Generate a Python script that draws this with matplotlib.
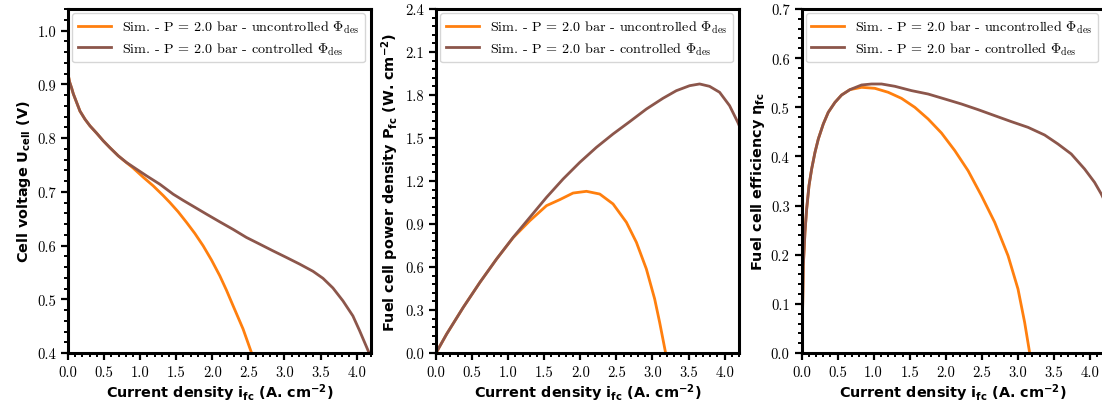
import matplotlib
matplotlib.use("Agg")
import matplotlib.pyplot as plt
from matplotlib.ticker import MultipleLocator, AutoMinorLocator, FormatStrFormatter

# ---- data ----
# Panel 1: cell voltage (V) vs current density (A/cm2)
i_u_unc = [0.0, 0.02, 0.05, 0.074, 0.12, 0.166, 0.235, 0.305, 0.397, 0.489, 0.581, 0.697,
           0.766, 0.904, 1.043, 1.181, 1.319, 1.412, 1.527, 1.643, 1.758, 1.873, 1.989,
           2.104, 2.196, 2.288, 2.427, 2.542, 2.70, 2.85]
u_unc = [0.92, 0.905, 0.893, 0.882, 0.866, 0.850, 0.835, 0.8225, 0.809, 0.7947, 0.782, 0.7668,
         0.759, 0.744, 0.727, 0.711, 0.693, 0.680, 0.6627, 0.643, 0.6225, 0.5995, 0.573,
         0.5437, 0.517, 0.488, 0.4446, 0.401, 0.33, 0.25]
i_u_ctl = [0.0, 0.02, 0.05, 0.074, 0.12, 0.166, 0.235, 0.305, 0.397, 0.489, 0.581, 0.697,
           0.812, 0.950, 1.089, 1.273, 1.458, 1.596, 1.735, 1.919, 2.104, 2.288, 2.473,
           2.657, 2.842, 3.027, 3.211, 3.396, 3.534, 3.672, 3.811, 3.949, 4.042, 4.111,
           4.171, 4.2]
u_ctl = [0.92, 0.905, 0.893, 0.882, 0.866, 0.850, 0.835, 0.8225, 0.809, 0.7947, 0.782, 0.7668,
         0.7544, 0.742, 0.7296, 0.714, 0.6955, 0.684, 0.673, 0.6584, 0.644, 0.630, 0.615,
         0.6026, 0.590, 0.5778, 0.5654, 0.552, 0.539, 0.521, 0.497, 0.469, 0.4415, 0.4198,
         0.401, 0.39]

# Panel 2: power density (W/cm2)
i_p_unc = [0.0, 0.148, 0.378, 0.609, 0.840, 1.070, 1.301, 1.532, 1.716, 1.90, 2.086,
           2.27, 2.454, 2.639, 2.778, 2.916, 3.031, 3.10, 3.183]
p_unc = [0.0, 0.1326, 0.3186, 0.493, 0.656, 0.805, 0.923, 1.028, 1.070, 1.116, 1.128,
         1.109, 1.040, 0.912, 0.772, 0.586, 0.377, 0.214, 0.0]
i_p_ctl = [0.0, 0.148, 0.378, 0.609, 0.840, 1.070, 1.301, 1.532, 1.762, 1.993, 2.224,
           2.454, 2.685, 2.916, 3.146, 3.331, 3.516, 3.654, 3.792, 3.931, 4.069, 4.184, 4.2]
p_ctl = [0.0, 0.1326, 0.3186, 0.493, 0.656, 0.807, 0.9465, 1.086, 1.214, 1.330, 1.435,
         1.528, 1.614, 1.702, 1.777, 1.830, 1.865, 1.877, 1.8605, 1.819, 1.726, 1.609, 1.59]

# Panel 3: efficiency
i_e_unc = [0.0, 0.0115, 0.025, 0.048, 0.0715, 0.104, 0.1407, 0.187, 0.233, 0.302, 0.371,
           0.4637, 0.556, 0.671, 0.833, 1.017, 1.202, 1.386, 1.571, 1.755, 1.940, 2.125,
           2.309, 2.494, 2.678, 2.863, 3.001, 3.093, 3.163]
e_unc = [0.0, 0.0556, 0.1777, 0.2456, 0.293, 0.3405, 0.3744, 0.4084, 0.4355, 0.466, 0.4898,
         0.510, 0.525, 0.5359, 0.5406, 0.5386, 0.5305, 0.5182, 0.4999, 0.4762, 0.4477, 0.4118,
         0.371, 0.3202, 0.2659, 0.198, 0.1302, 0.0624, 0.0]
i_e_ctl = [0.0, 0.0115, 0.025, 0.048, 0.0715, 0.104, 0.1407, 0.187, 0.233, 0.302, 0.371,
           0.4637, 0.556, 0.671, 0.833, 0.971, 1.11, 1.294, 1.525, 1.755, 1.986, 2.217,
           2.448, 2.678, 2.909, 3.14, 3.370, 3.555, 3.739, 3.924, 4.062, 4.155, 4.2]
e_ctl = [0.0, 0.0556, 0.1777, 0.2456, 0.293, 0.3405, 0.3744, 0.4084, 0.4355, 0.466, 0.4898,
         0.510, 0.525, 0.5359, 0.5454, 0.5474, 0.5474, 0.5427, 0.5339, 0.527, 0.5169, 0.5067,
         0.4952, 0.483, 0.4708, 0.4592, 0.4436, 0.4253, 0.405, 0.3744, 0.3473, 0.3236, 0.31]

label_unc = r"Sim. - P = 2.0 bar - uncontrolled $\Phi_{\mathrm{des}}$"
label_ctl = r"Sim. - P = 2.0 bar - controlled $\Phi_{\mathrm{des}}$"
xlabel = r"Current density $\mathbf{i_{fc}}$ (A. cm$^{\mathbf{-2}}$)"
ylabels = [r"Cell voltage $\mathbf{U_{cell}}$ (V)",
           r"Fuel cell power density $\mathbf{P_{fc}}$ (W. cm$^{\mathbf{-2}}$)",
           "Fuel cell efficiency η$_{\\mathbf{fc}}$"]
ylims = [(0.4, 1.04), (0.0, 2.4), (0.0, 0.7)]
ymajor = [0.1, 0.3, 0.1]

C_UNC = "#ff7f0e"
C_CTL = "#8c564b"

plt.rcParams["mathtext.fontset"] = "cm"
plt.rcParams["axes.unicode_minus"] = False

W, H = 1102, 410
fig = plt.figure(figsize=(W / 100, H / 100), dpi=100)
lefts = [68, 436, 801.5]
axw, axh = 303, 344
bottom = 56

series = [
    (i_u_unc, u_unc, i_u_ctl, u_ctl),
    (i_p_unc, p_unc, i_p_ctl, p_ctl),
    (i_e_unc, e_unc, i_e_ctl, e_ctl),
]

for k in range(3):
    ax = fig.add_axes([lefts[k] / W, bottom / H, axw / W, axh / H])
    xa, ya, xb, yb = series[k]
    ax.plot(xa, ya, color=C_UNC, lw=2.0, label=label_unc, solid_joinstyle="round")
    ax.plot(xb, yb, color=C_CTL, lw=2.0, label=label_ctl, solid_joinstyle="round")
    ax.set_xlim(0, 4.2)
    ax.set_ylim(*ylims[k])
    ax.xaxis.set_major_locator(MultipleLocator(0.5))
    ax.xaxis.set_minor_locator(AutoMinorLocator(5))
    ax.yaxis.set_major_locator(MultipleLocator(ymajor[k]))
    ax.yaxis.set_minor_locator(AutoMinorLocator(5))
    ax.xaxis.set_major_formatter(FormatStrFormatter("%.1f"))
    ax.yaxis.set_major_formatter(FormatStrFormatter("%.1f"))
    for s in ax.spines.values():
        s.set_linewidth(2.2)
    ax.tick_params(which="major", length=5, width=1.6, labelsize=10.5,
                   labelfontfamily="cmr10", direction="out")
    ax.tick_params(which="minor", length=3, width=1.4, direction="out")
    ax.set_xlabel(xlabel, fontsize=10.4, fontweight="bold",
                  math_fontfamily="dejavusans", labelpad=2)
    ax.set_ylabel(ylabels[k], fontsize=10.4, fontweight="bold",
                  math_fontfamily="dejavusans", labelpad=3)
    ax.legend(loc="upper left", prop={"family": "cmr10", "size": 10.2},
              handlelength=2.3, borderaxespad=0.3, labelspacing=0.35)

fig.savefig("out.png", dpi=100)
